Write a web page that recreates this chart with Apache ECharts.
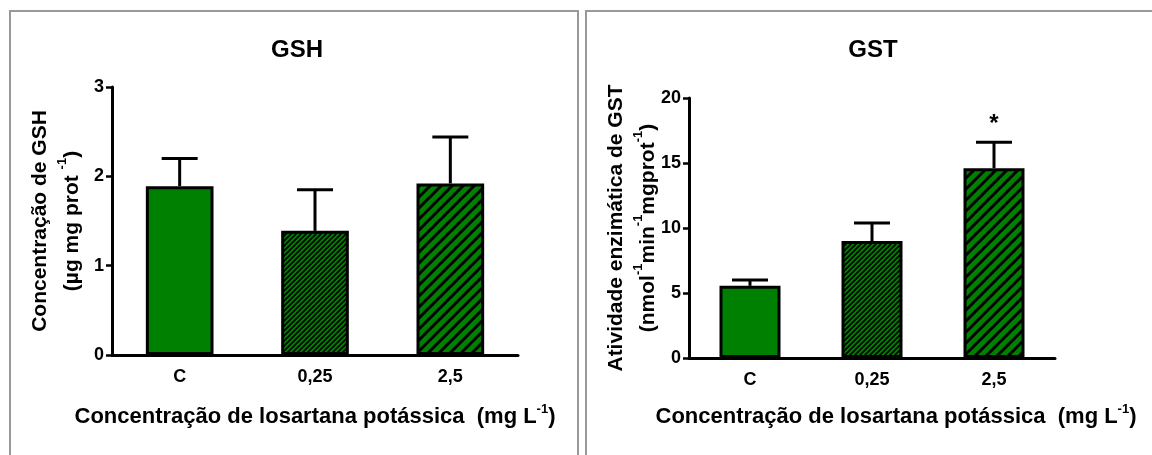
<!DOCTYPE html>
<html>
<head>
<meta charset="utf-8">
<title>GSH e GST</title>
<script src="https://cdn.jsdelivr.net/npm/echarts@6/dist/echarts.min.js"></script>
<style>
  html, body { margin: 0; padding: 0; background: #fff; }
  #chart { width: 1152px; height: 455px; }
</style>
</head>
<body>
<div id="chart"></div>
<script>
// Treatment groups (losartan potassium concentration, mg/L)
const categories = ['C', '0,25', '2,5'];

// GSH content (µg/mg protein): mean and upper error (SEM)
const gshMean = [1.89, 1.39, 1.92];
const gshErr = [0.31, 0.46, 0.52];

// GST activity (nmol/min/mg protein): mean and upper error (SEM)
const gstMean = [5.55, 9.0, 14.6];
const gstErr = [0.45, 1.38, 2.0];
const gstSig = ['', '', '*'];

const FONT = '"Liberation Sans", Arial, Helvetica, sans-serif';
const GREEN = '#008000';

// Diagonal hatch fill ("/" direction) on a green ground
function hatch(period, lineW) {
  const c = document.createElement('canvas');
  c.width = period; c.height = period;
  const g = c.getContext('2d');
  g.fillStyle = GREEN;
  g.fillRect(0, 0, period, period);
  g.strokeStyle = '#000';
  g.lineWidth = lineW;
  g.beginPath();
  g.moveTo(-period, 2 * period); g.lineTo(2 * period, -period);
  g.moveTo(-period, period); g.lineTo(period, -period);
  g.moveTo(0, 2 * period); g.lineTo(2 * period, 0);
  g.stroke();
  return { image: c, repeat: 'repeat' };
}
const fills = [GREEN, hatch(5, 1.6), hatch(11, 3)];

const yNameRich = {
  a: { fontFamily: FONT, fontWeight: 'bold', fontSize: 21, lineHeight: 32, color: '#000' },
  s: { fontFamily: FONT, fontWeight: 'bold', fontSize: 13, lineHeight: 22, verticalAlign: 'top', color: '#000' }
};
const xNameRich = {
  a: { fontFamily: FONT, fontWeight: 'bold', fontSize: 22, lineHeight: 28, color: '#000' },
  s: { fontFamily: FONT, fontWeight: 'bold', fontSize: 13, lineHeight: 20, verticalAlign: 'top', color: '#000' }
};
const xName = '{a|Concentração de losartana potássica  (mg L}{s|-1}{a|)}';

function xAxisFor(gridIndex, gap, shift) {
  return {
    type: 'category', gridIndex, data: categories,
    name: xName, nameLocation: 'middle', nameGap: gap,
    nameTextStyle: { rich: xNameRich, padding: [0, 0, 0, shift] },
    axisLine: { lineStyle: { color: '#000', width: 3 } },
    axisTick: { alignWithLabel: true, length: 6, lineStyle: { color: '#000', width: 2.5 } },
    axisLabel: { color: '#000', fontFamily: FONT, fontWeight: 'bold', fontSize: 18, margin: 13 }
  };
}
function yAxisFor(gridIndex, max, interval, name, gap) {
  return {
    type: 'value', gridIndex, min: 0, max, interval,
    name, nameLocation: 'middle', nameGap: gap, nameRotate: 90,
    nameMoveOverlap: false,
    nameTextStyle: { rich: yNameRich },
    splitLine: { show: false },
    axisLine: { show: true, lineStyle: { color: '#000', width: 3 } },
    axisTick: { show: true, length: 6, lineStyle: { color: '#000', width: 2.5 } },
    axisLabel: { color: '#000', fontFamily: FONT, fontWeight: 'bold', fontSize: 18, margin: 8 }
  };
}

function barSeries(idx, values) {
  return {
    type: 'bar', xAxisIndex: idx, yAxisIndex: idx, barWidth: '50%', z: 3,
    data: values.map((v, i) => ({
      value: v,
      itemStyle: { color: fills[i], borderColor: '#000', borderWidth: 3 }
    }))
  };
}

// Upper error whisker with cap, plus optional significance mark
function errorSeries(idx, means, errs, marks) {
  return {
    type: 'custom', xAxisIndex: idx, yAxisIndex: idx, z: 2,
    data: means.map((m, i) => [i, m, m + errs[i]]),
    encode: { x: 0, y: [1, 2] },
    renderItem(params, api) {
      const base = api.coord([api.value(0), api.value(1)]);
      const top = api.coord([api.value(0), api.value(2)]);
      const half = 18;
      const st = { stroke: '#000', lineWidth: 3 };
      const children = [
        { type: 'line', shape: { x1: base[0], y1: base[1], x2: top[0], y2: top[1] }, style: st },
        { type: 'line', shape: { x1: top[0] - half, y1: top[1], x2: top[0] + half, y2: top[1] }, style: st }
      ];
      const mark = marks ? marks[params.dataIndex] : '';
      if (mark) {
        children.push({
          type: 'text',
          style: { text: mark, x: top[0], y: top[1] - 18, align: 'center', verticalAlign: 'middle',
                   font: 'bold 24px ' + FONT, fill: '#000' }
        });
      }
      return { type: 'group', children };
    }
  };
}

const chart = echarts.init(document.getElementById('chart'), null, { renderer: 'canvas' });
chart.setOption({
  animation: false,
  backgroundColor: '#fff',
  title: [
    { text: 'GSH', left: 292, top: 45, textAlign: 'center', textVerticalAlign: 'middle',
      textStyle: { fontFamily: FONT, fontWeight: 'bold', fontSize: 24, color: '#000' } },
    { text: 'GST', left: 868, top: 45, textAlign: 'center', textVerticalAlign: 'middle',
      textStyle: { fontFamily: FONT, fontWeight: 'bold', fontSize: 24, color: '#000' } }
  ],
  graphic: [
    { type: 'rect', shape: { x: 10, y: 11, width: 568, height: 520 },
      style: { fill: 'none', stroke: '#999', lineWidth: 2 }, silent: true },
    { type: 'rect', shape: { x: 586, y: 11, width: 620, height: 520 },
      style: { fill: 'none', stroke: '#999', lineWidth: 2 }, silent: true }
  ],
  grid: [
    { left: 112, top: 87, width: 406, height: 268 },
    { left: 689, top: 98, width: 366, height: 260 }
  ],
  xAxis: [xAxisFor(0, 48, 0), xAxisFor(1, 45, 48)],
  yAxis: [
    yAxisFor(0, 3, 1, '{a|Concentração de GSH}\n{a|(µg mg prot }{s|-1}{a|)}', 24),
    yAxisFor(1, 20, 5, '{a|Atividade enzimática de GST}\n{a|(nmol}{s|-1}{a|min}{s|-1}{a|mgprot}{s|-1}{a|)}', 25)
  ],
  series: [
    barSeries(0, gshMean),
    errorSeries(0, gshMean, gshErr, null),
    barSeries(1, gstMean),
    errorSeries(1, gstMean, gstErr, gstSig)
  ]
});
</script>
</body>
</html>
